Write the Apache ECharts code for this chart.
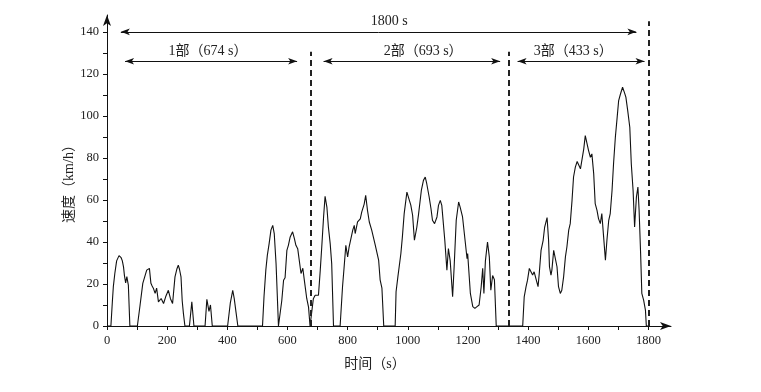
<!DOCTYPE html>
<html>
<head>
<meta charset="utf-8">
<script src="https://cdn.jsdelivr.net/npm/echarts@6/dist/echarts.min.js"></script>
<style>html,body{margin:0;padding:0;background:#fff}#c{width:761px;height:392px}</style>
</head>
<body>
<div id="c"></div>
<script>
// ---- data ----
const times = [0,13,18,21,26,32,40,47,51,55,58,62,66,69,71,76,
101,110,119,124,132,136,141,146,150,154,160,165,171,180,188,195,204,211,218,226,232,237,241,246,250,254,259,
274,282,289,
326,332,339,344,350,
401,410,418,423,429,431,435,
517,522,528,533,539,545,551,556,562,566,570,
575,581,587,592,598,603,609,617,623,628,634,640,645,651,656,664,670,675,
681,686,692,697,703,709,714,720,725,731,736,742,747,753,
775,783,788,794,800,805,811,817,822,825,833,842,847,855,860,866,872,880,892,903,908,914,920,
958,961,967,971,977,982,988,997,1002,1010,1016,1022,1030,1036,1045,1052,1058,1063,1071,1077,1082,1089,1097,1102,1108,1113,1119,1123,1130,1135,1141,1149,1154,1161,1169,1174,1182,1191,1197,1199,1208,1216,1223,1230,1237,1244,1249,1253,1258,1265,1271,1276,1282,1288,1294,
1382,1387,1393,1398,1404,1409,1415,1420,1426,1433,1437,1443,1450,1455,1463,1468,1471,1476,1479,1485,1490,1496,1501,1507,1512,1518,1524,1529,1535,1540,1546,1551,1557,1563,1568,1574,1579,1585,1590,1596,1601,1607,1612,1618,1623,1629,1634,1640,1645,1651,1657,1662,1668,1673,1679,1684,1690,1696,1701,1707,1714,1720,1725,1731,1738,1743,1749,1754,1760,1765,1769,1774,1778,1784,1790,1793,1800];
const speeds = [0,0,12,18.6,25,31,33.5,32.5,31,28,24,20.5,23.5,21,19.5,0,
0,10,20.3,19.7,26.6,27,27.4,20.3,19,18,15.5,18,11.5,13.1,10.7,13.9,17,13,10.7,23.4,27,29,27,23.4,12,6,0,
0,11.5,0,
0,12.7,7,10,0,
0,11,17,13,6.5,7,0,
0,14,26.6,33.6,39.2,45.6,47.9,44,29.7,15,0,
0,12,21.8,23,36,38.4,42.4,44.8,41.6,38.4,36.8,36.8,25,27.5,21.8,13.1,9,0,
0,13,14.6,14,14.6,26.6,37.7,51.9,61.7,56.6,47.1,39.2,29.7,0,
0,18.7,27.5,38.4,32.9,37.7,38.4,45.6,47.9,44,49.5,51,54.3,58,62.2,55,49.5,45.6,38.4,31.4,22,18,0,
0,16.3,23.4,24,34.5,42.4,53.5,63.7,63,57.5,52.7,40.8,47,53.5,64.5,69.3,70.9,67.7,61.4,55.9,50.3,48.7,51.9,57.4,59.8,57.4,58,40.8,26.6,36.9,31,13.9,28,50.3,59,56.6,51.9,40,32,34.5,15.5,9.2,8.4,9.2,10,18.7,27.5,15.5,31,40,32.9,17,24,22,0,
0,13.9,18.6,21.8,27.4,28.2,24.3,25.8,26.6,18.7,25,36,40.8,47.1,51.6,40.8,28.2,24.2,26.6,36,35.3,28.2,18.7,15.5,17,23.4,32.9,37.7,45.6,48.7,59.8,70.9,75.6,78.3,78,74.8,74,84.3,90.6,90.6,83.5,80.3,81.9,72.5,58.2,55,51.1,48.7,53.5,42.4,31.3,40.8,50.3,53.5,64.5,77.2,89.8,99.3,107.3,110.4,113.6,111.2,108.9,102.6,94.6,77.2,64.5,47.1,61.4,66.1,55,34.5,15.5,12.3,7.6,0,0];

const xTickLabels = [0,200,400,600,800,1000,1200,1400,1600,1800];
const xTickMarks = [0,100,200,300,400,500,600,700,800,900,1000,1100,1200,1300,1400,1500,1600,1700,1800];
const yTickLabels = [0,20,40,60,80,100,120,140];
const yTickMarks = [0,10,20,30,40,50,60,70,80,90,100,110,120,130,140];

// section boundaries (s) and labels
const boundaries = [676, 1337, 1800];
const boundaryTops = [130.5, 130.5, 145];
const sectionNames = ['1部（674 s）','2部（693 s）','3部（433 s）'];
const sectionLabelX = [336, 1051, 1550];
const sectionArrowStart = [60, 720, 1365];
const sectionArrowEnd = [632, 1307, 1787];
const totalName = '1800 s';
const totalArrow = [46, 1760];

// ---- build ----
const FONT = "'Liberation Serif', 'Noto Sans CJK SC', serif";
const lineData = times.map((t, i) => [t, speeds[i]]);

const markLines = [];
markLines.push([{coord:[totalArrow[0],140]},{coord:[totalArrow[1],140]}]);
for (let i = 0; i < 3; i++) {
  markLines.push([{coord:[sectionArrowStart[i],126]},{coord:[sectionArrowEnd[i],126]}]);
}
for (let i = 0; i < 3; i++) {
  markLines.push([
    {coord:[boundaries[i],0], symbol:'none', lineStyle:{type:[6,4], width:2, color:'#222'}},
    {coord:[boundaries[i],boundaryTops[i]], symbol:'none'}
  ]);
}
const markPoints = [{name: totalName, coord:[938,144.8]}];
for (let i = 0; i < 3; i++) markPoints.push({name: sectionNames[i], coord:[sectionLabelX[i],130.5]});

const plain = v => String(v);

const chart = echarts.init(document.getElementById('c'), null, {renderer:'canvas'});
chart.setOption({
  animation: false,
  backgroundColor: '#fff',
  grid: {left:107, right:90, top:15, bottom:66, containLabel:false, outerBoundsMode:'none'},
  xAxis: {
    type:'value', min:0, max:1875,
    name:'时间（s）', nameLocation:'middle', nameGap:31, nameMoveOverlap:false,
    nameTextStyle:{fontFamily:FONT, fontSize:14, color:'#222', padding:[0,28,0,0]},
    axisLine:{show:true, lineStyle:{color:'#111', width:1}, symbol:['none','arrow'], symbolSize:[6,11]},
    axisTick:{show:true, inside:false, length:4, customValues:xTickMarks, lineStyle:{color:'#111'}},
    axisLabel:{customValues:xTickLabels, formatter:plain, margin:8, fontFamily:FONT, fontSize:12.5, color:'#222'},
    splitLine:{show:false}
  },
  yAxis: {
    type:'value', min:0, max:148,
    name:'速度（km/h）', nameLocation:'middle', nameGap:31, nameRotate:90, nameMoveOverlap:false,
    nameTextStyle:{fontFamily:FONT, fontSize:14, color:'#222', padding:[0,20,0,0]},
    axisLine:{show:true, lineStyle:{color:'#111', width:1}, symbol:['none','arrow'], symbolSize:[6,11]},
    axisTick:{show:true, inside:false, length:4, customValues:yTickMarks, lineStyle:{color:'#111'}},
    axisLabel:{customValues:yTickLabels, formatter:plain, margin:8, fontFamily:FONT, fontSize:12.5, color:'#222'},
    splitLine:{show:false}
  },
  series: [{
    type:'line', data:lineData, showSymbol:false, silent:true,
    lineStyle:{color:'#111', width:1.1},
    markLine:{
      silent:true, animation:false,
      symbol:['arrow','arrow'], symbolSize:[5,9],
      lineStyle:{color:'#111', width:1, type:'solid'},
      label:{show:false},
      data: markLines
    },
    markPoint:{
      silent:true, animation:false,
      symbol:'circle', symbolSize:1, itemStyle:{color:'rgba(0,0,0,0)'},
      label:{show:true, position:'inside', formatter:'{b}', fontFamily:FONT, fontSize:14, color:'#222'},
      data: markPoints
    }
  }]
});
</script>
</body>
</html>
